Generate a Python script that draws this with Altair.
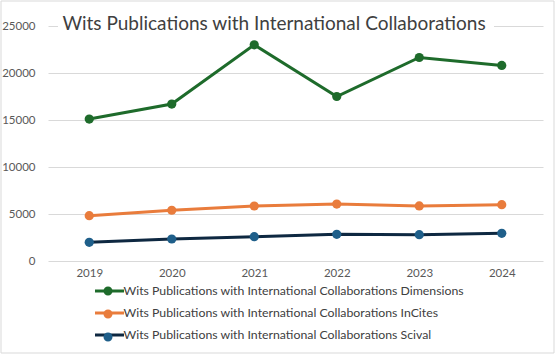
import altair as alt
import pandas as pd

years = ["2019", "2020", "2021", "2022", "2023", "2024"]
series_names = [
    "Wits Publications with International Collaborations Dimensions",
    "Wits Publications with International Collaborations InCites",
    "Wits Publications with International Collaborations Scival",
]
dimensions = [15100, 16700, 23000, 17500, 21650, 20800]
incites = [4820, 5400, 5850, 6060, 5860, 5990]
scival = [1990, 2340, 2590, 2840, 2800, 2950]
line_colors = ["#1e6b2b", "#e97c3c", "#0e2841"]
marker_colors = ["#1e6b2b", "#e97c3c", "#1f5f8a"]
y_ticks = [0, 5000, 10000, 15000, 20000, 25000]
title_text = "Wits Publications with International Collaborations"

rows = []
for name, vals in zip(series_names, [dimensions, incites, scival]):
    for yr, v in zip(years, vals):
        rows.append({"year": yr, "value": v, "series": name, "series2": name})
df = pd.DataFrame(rows)

FONT = "Lato"
W, H = 495, 235

x_enc = alt.X("year:O", scale=alt.Scale(type="point", padding=0.5),
              axis=alt.Axis(title=None, labelAngle=0, ticks=False, domain=False,
                            grid=False, labelPadding=6, labelFontSize=11.5,
                            labelColor="#595959", labelFont=FONT))
y_enc = alt.Y("value:Q", scale=alt.Scale(domain=[0, 25000], nice=False),
              axis=alt.Axis(title=None, values=y_ticks, ticks=False, domain=False,
                            gridColor="#d9d9d9", gridWidth=1, labelPadding=13,
                            labelFontSize=11.5, labelColor="#595959", labelFont=FONT,
                            format="d"))

LEG_X, LEG_Y = 47.5, 251
SYM = 625

lines = alt.Chart(df).mark_line(strokeWidth=3).encode(
    x=x_enc, y=y_enc,
    stroke=alt.Stroke("series:N",
                      scale=alt.Scale(domain=series_names, range=line_colors),
                      legend=alt.Legend(orient="none", legendX=LEG_X, legendY=LEG_Y,
                                        direction="vertical", title=None,
                                        symbolType="M-1.16,0H1.16", symbolSize=SYM,
                                        symbolStrokeWidth=3, padding=0,
                                        rowPadding=1, labelOffset=0,
                                        labelFont=FONT, labelFontSize=12.3,
                                        labelColor="#404040", labelLimit=0)),
)

points = alt.Chart(df).mark_point(filled=True, size=85, opacity=1).encode(
    x="year:O", y="value:Q",
    fill=alt.Fill("series2:N",
                  scale=alt.Scale(domain=series_names, range=marker_colors),
                  legend=alt.Legend(orient="none", legendX=LEG_X, legendY=LEG_Y + 1.5,
                                    direction="vertical", title=None,
                                    symbolType="M0.36,0A0.36,0.36,0,1,1,-0.36,0A0.36,0.36,0,1,1,0.36,0Z",
                                    symbolSize=SYM, symbolStrokeWidth=0,
                                    symbolOpacity=1, padding=0,
                                    rowPadding=4, labelOffset=0,
                                    labelFont=FONT, labelFontSize=12.3,
                                    labelExpr="' '", labelLimit=0, zindex=2)),
)

title_df = pd.DataFrame({"t": [title_text]})
title_bg = alt.Chart(title_df).mark_rect(color="white").encode(
    x=alt.value(10), x2=alt.value(446), y=alt.value(-6), y2=alt.value(5)
)
title = alt.Chart(title_df).mark_text(
    font=FONT, fontSize=19, color="#404040", align="center", baseline="middle"
).encode(x=alt.value(226), y=alt.value(-2), text="t:N")

frame = alt.Chart(title_df).mark_rect(fill=None, stroke="#d9d9d9", strokeWidth=1).encode(
    x=alt.value(-47), x2=alt.value(506), y=alt.value(-25), y2=alt.value(327)
)

chart = alt.layer(frame, lines, points, title_bg, title).resolve_scale(
    stroke="independent", fill="independent"
).properties(
    width=W, height=H,
    autosize=alt.AutoSizeParams(type="none"),
    padding={"left": 48, "top": 26, "right": 12, "bottom": 95},
    background="white",
).configure_view(stroke=None)

chart.save("out.html", embed_options={"renderer": "svg", "actions": False})
